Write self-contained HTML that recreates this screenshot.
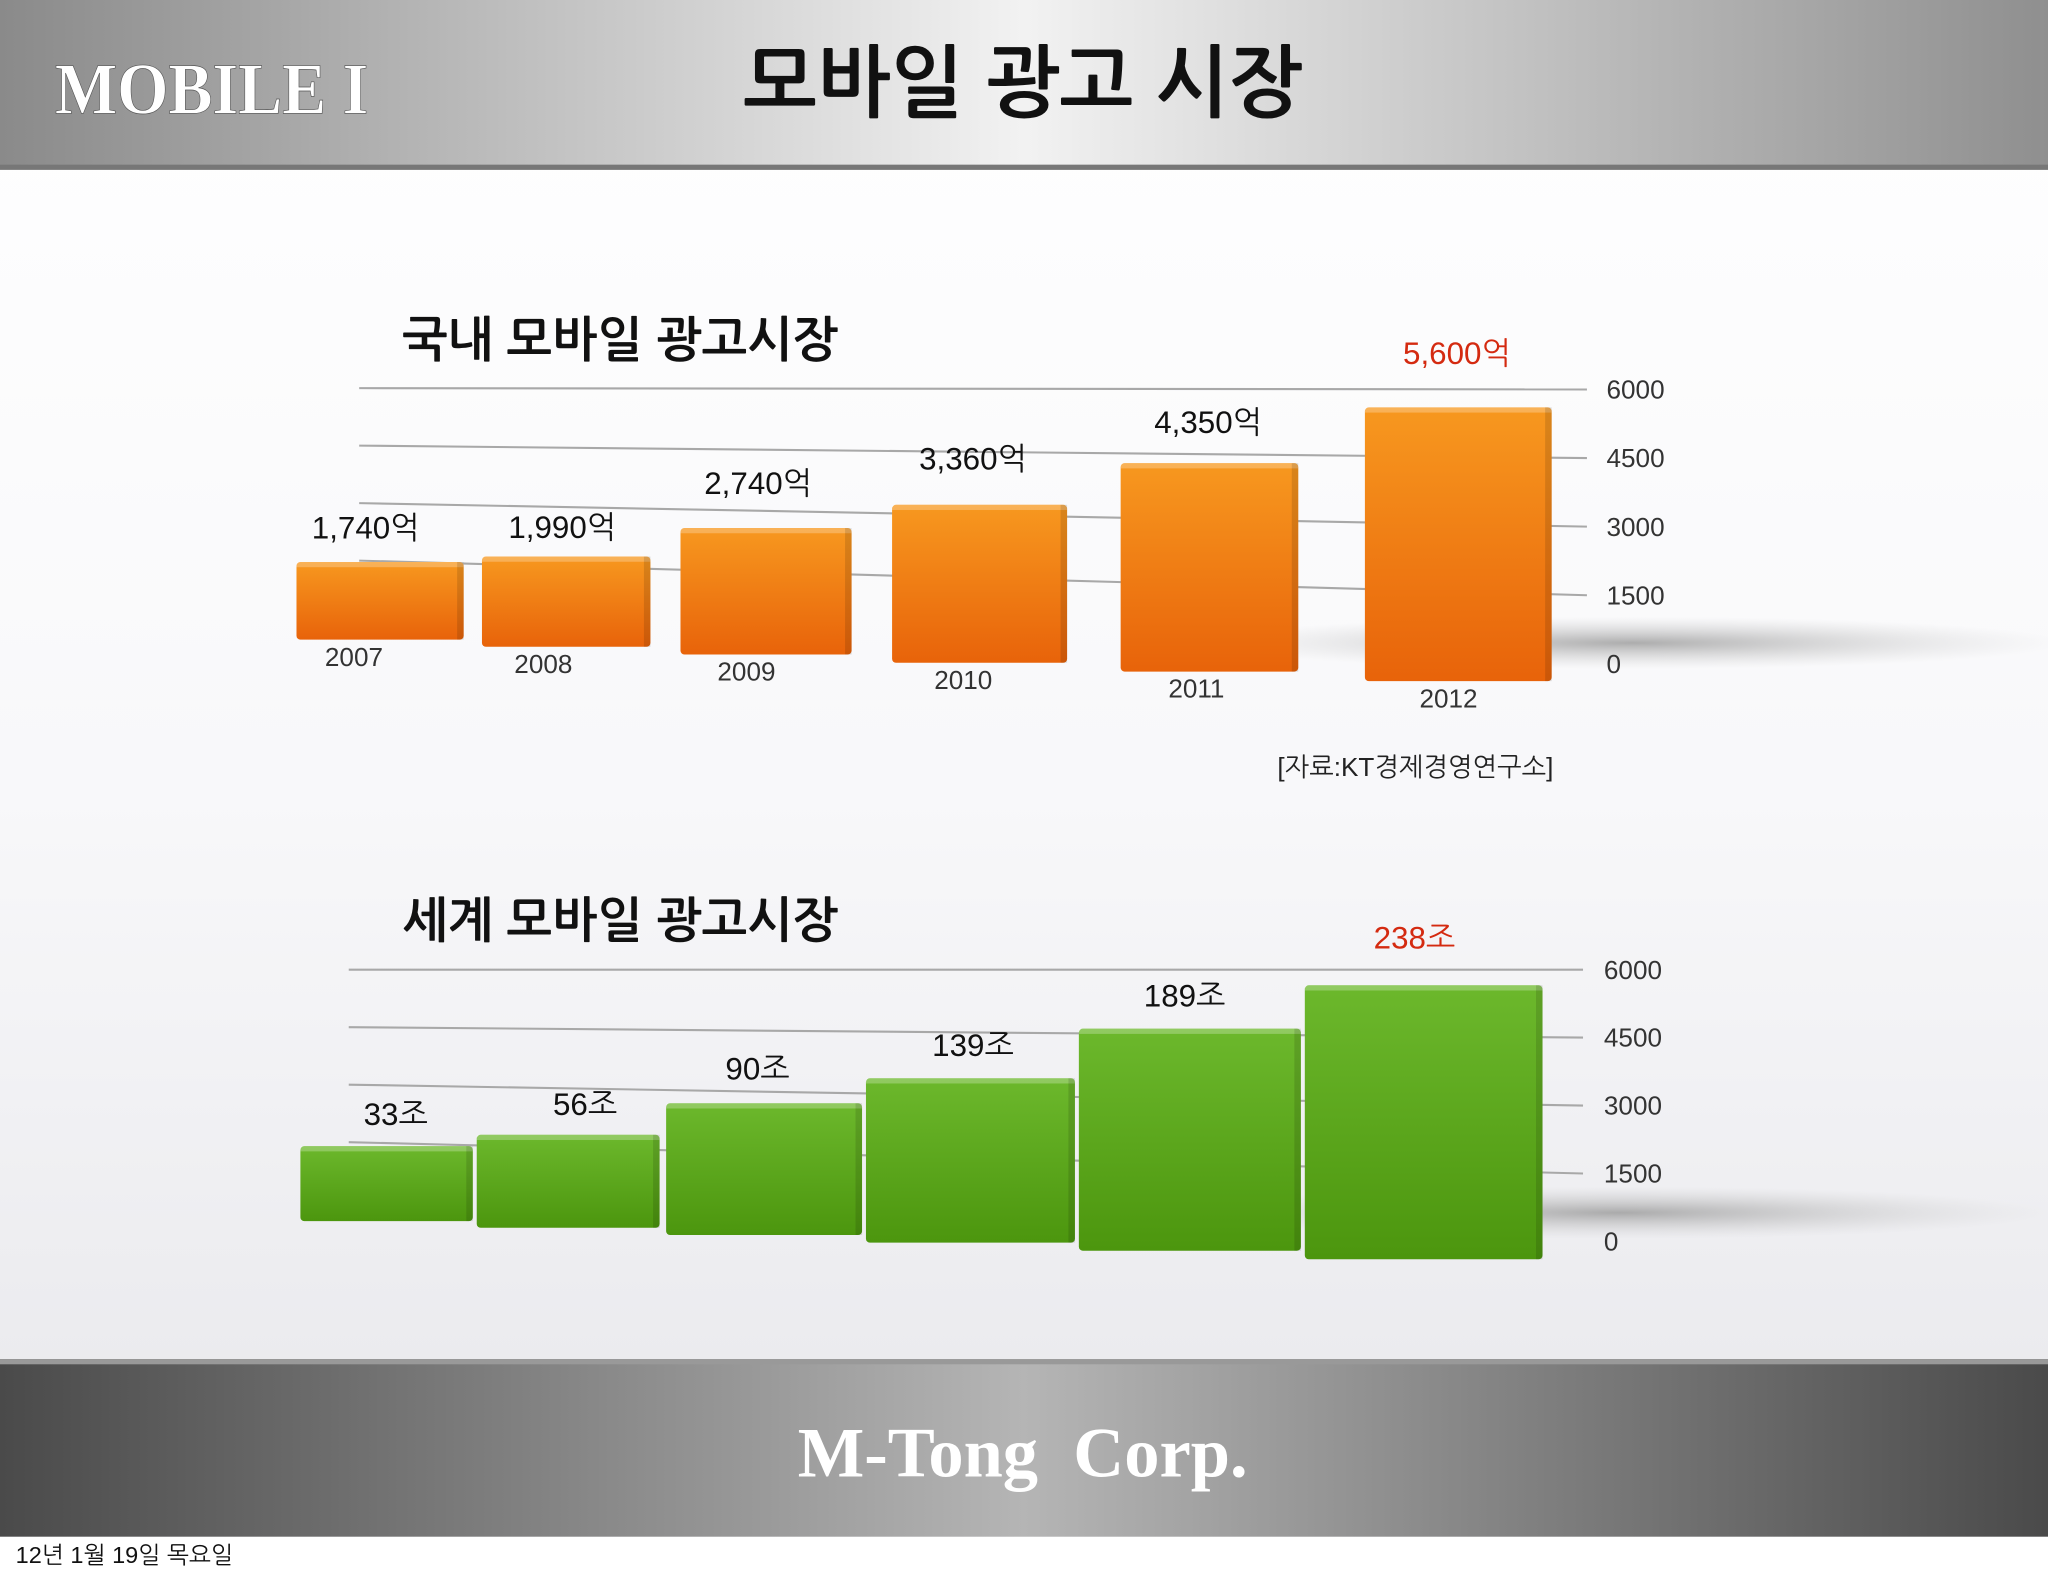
<!DOCTYPE html>
<html><head><meta charset="utf-8"><style>
html,body{margin:0;padding:0;width:2048px;height:1576px;overflow:hidden;background:#fff}
svg{display:block}
text{font-family:"Liberation Sans","NanumGothic","Noto Sans CJK KR",sans-serif}
text.serif{font-family:"Liberation Serif",serif}
</style></head><body>
<svg id="s" width="2048" height="1576" viewBox="0 0 1568 1206" preserveAspectRatio="none" xmlns="http://www.w3.org/2000/svg">
<defs>
<linearGradient id="hdr" x1="0" x2="1" y1="0" y2="0"><stop offset="0" stop-color="#8a8a8a"/><stop offset="0.5" stop-color="#f2f2f2"/><stop offset="1" stop-color="#8f8f8f"/></linearGradient>
<linearGradient id="ftr" x1="0" x2="1" y1="0" y2="0"><stop offset="0" stop-color="#4a4a4a"/><stop offset="0.5" stop-color="#b5b5b5"/><stop offset="1" stop-color="#4a4a4a"/></linearGradient>
<linearGradient id="bodyg" x1="0" x2="0" y1="0" y2="1"><stop offset="0" stop-color="#ffffff"/><stop offset="0.5" stop-color="#f8f8fa"/><stop offset="1" stop-color="#e6e6ea"/></linearGradient>
<linearGradient id="org" x1="0" x2="0" y1="0" y2="1"><stop offset="0" stop-color="#f7981f"/><stop offset="1" stop-color="#e8630a"/></linearGradient>
<linearGradient id="grn" x1="0" x2="0" y1="0" y2="1"><stop offset="0" stop-color="#6cb82c"/><stop offset="1" stop-color="#4c960e"/></linearGradient>
<radialGradient id="shd" cx="0.5" cy="0.5" r="0.5"><stop offset="0" stop-color="#999" stop-opacity="0.8"/><stop offset="1" stop-color="#ccc" stop-opacity="0"/></radialGradient>
</defs>
<rect x="0" y="0" width="1568" height="1206" fill="url(#bodyg)"/>
<rect x="0" y="0" width="1568" height="128" fill="url(#hdr)"/>
<rect x="0" y="126" width="1568" height="4" fill="#777"/>
<text class="serif" x="42" y="87" font-weight="bold" font-size="56" fill="#fff" stroke="#555" stroke-width="0.5" textLength="240" lengthAdjust="spacingAndGlyphs">MOBILE I</text>
<text x="783" y="84" text-anchor="middle" font-weight="bold" font-size="60" fill="#111">모바일 광고 시장</text>
<rect x="0" y="1040" width="1568" height="136" fill="url(#ftr)"/>
<rect x="0" y="1040" width="1568" height="4" fill="#999"/>
<text class="serif" x="783" y="1130" text-anchor="middle" font-weight="bold" font-size="54" fill="#fff" xml:space="preserve">M-Tong  Corp.</text>
<rect x="0" y="1176" width="1568" height="30" fill="#fff"/>
<text x="12" y="1196" font-size="18" fill="#111">12년 1월 19일 목요일</text>
<g id="c1"></g>
<g id="c2"></g>
<text x="978" y="594" font-size="20" fill="#222">[자료:KT경제경영연구소]</text>
</svg>
<script>
const years=["2007","2008","2009","2010","2011","2012"];
const domValues=[1740,1990,2740,3360,4350,5600];
const domLabels=["1,740억","1,990억","2,740억","3,360억","4,350억","5,600억"];
const globalValues=[1630,2000,2800,3450,4600,5600];
const globalLabels=["33조","56조","90조","139조","189조","238조"];
const ticks=[0,1500,3000,4500,6000];
const NS="http://www.w3.org/2000/svg";
function mk(p,t,a,txt){const e=document.createElementNS(NS,t);for(const k in a)e.setAttribute(k,a[k]);if(txt!=null)e.textContent=txt;p.appendChild(e);return e;}
function draw(g,cfg,vals,labels,showYears,fill){
  mk(g,'ellipse',{cx:cfg.shX,cy:cfg.shY,rx:330,ry:20,fill:'url(#shd)'});
  const xL=cfg.gx0,xR=cfg.gx1;
  const yL=v=>cfg.lb-(v/6000)*(cfg.lb-cfg.lt);
  const yR=v=>cfg.rb-(v/6000)*(cfg.rb-cfg.rt);
  ticks.forEach(t=>{
    if(t>0){const l=mk(g,'line',{x1:xL,y1:yL(t),x2:xR,y2:yR(t),stroke:'#a8a8a8','stroke-width':1.6});
    
    }
    const tx=mk(g,'text',{x:cfg.ax,y:yR(t)+7,'font-size':20,fill:'#333'},String(t));
    
    
  });
  const n=vals.length;
  vals.forEach((v,i)=>{
    const b=cfg.bars[i];
    const f=(b[0]+b[1])/2;const u=(f-cfg.bars[0][0])/(cfg.bars[n-1][1]-cfg.bars[0][0]);
    const base=cfg.b0+(cfg.b1-cfg.b0)*u;
    const sc=cfg.s0+(cfg.s1-cfg.s0)*u;
    const h=v*sc;const top=base-h;
    const r=mk(g,'rect',{x:b[0],y:top,width:b[1]-b[0],height:h,fill:fill,rx:3});
    
    
    mk(g,'rect',{x:b[0],y:top,width:b[1]-b[0],height:4,fill:'#fff',opacity:0.25});
    mk(g,'rect',{x:b[1]-5,y:top,width:5,height:h,fill:'#000',opacity:0.12});
    const lt=mk(g,'text',{x:f+cfg.lblShift[i],y:top-cfg.lblOff[i],'text-anchor':'middle','font-size':24,fill:i==n-1?'#d42a10':'#111'},labels[i]);
    
    
    if(showYears){const yt=mk(g,'text',{x:f-20+i*2.5,y:base+20,'text-anchor':'middle','font-size':20,fill:'#333'},years[i]);
    
    }
  });
  const tt=mk(g,'text',{x:308,y:cfg.ty,'font-size':37,'font-weight':'bold',fill:'#111'},cfg.title);
  
  
}
draw(document.getElementById('c1'),{gx0:275,gx1:1215,lt:297,lb:473,rt:298,rb:508,ax:1230,
 bars:[[227,355],[369,498],[521,652],[683,817],[858,994],[1045,1188]],b0:487,b1:524,s0:0.0339,s1:0.0377,
 lblShift:[-11,-3,-6,-5,-1,-1],lblOff:[18,14,26,27,23,33],title:'국내 모바일 광고시장',ty:273,shX:1250,shY:492},domValues,domLabels,true,'url(#org)');
draw(document.getElementById('c2'),{gx0:267,gx1:1212,lt:742,lb:918,rt:742,rb:950,ax:1228,
 bars:[[230,362],[365,505],[510,660],[663,823],[826,996],[999,1181]],b0:932,b1:967,s0:0.035,s1:0.0377,
 lblShift:[7,13,-5,2,-4,-7],lblOff:[16,15,18,17,17,28],title:'세계 모바일 광고시장',ty:717,shX:1240,shY:928},globalValues,globalLabels,false,'url(#grn)');
</script>
</body></html>
